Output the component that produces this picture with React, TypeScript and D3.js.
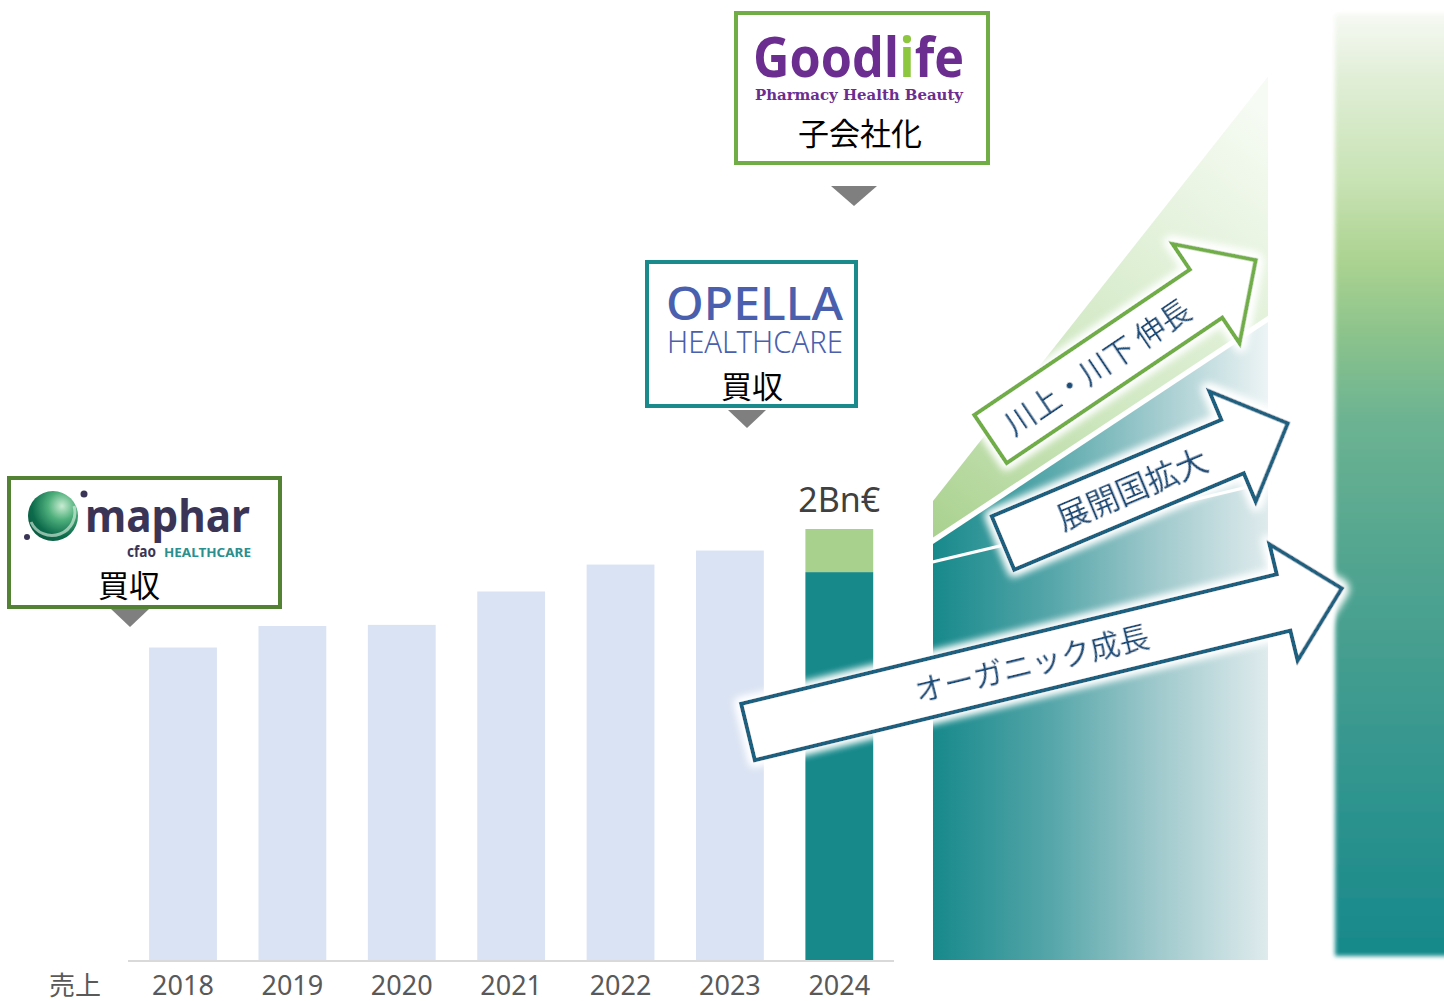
import React, { useEffect } from 'react';
import * as d3 from 'd3';

// ---- data ----
const years = ['2018', '2019', '2020', '2021', '2022', '2023', '2024'];
const organicSales = [1.45, 1.55, 1.555, 1.71, 1.835, 1.9, 1.8];
const acquiredSales = [0, 0, 0, 0, 0, 0, 0.2];
const totalLabel = '2Bn€';
const axisTitle = '売上';

// projection bands (Bn€ at the start / end of the projection)
const futureSteps = [0, 1];
const organicFuture = [1.84, 2.21];
const expansionLow = [1.855, 2.225];
const expansionHigh = [1.93, 2.96];
const valueChainLow = [1.96, 2.99];
const valueChainHigh = [2.13, 4.1];

const arrowLabels = ['川上・川下 伸長', '展開国拡大', 'オーガニック成長'];

const W = 1444;
const H = 1001;
const CJK = '"Noto Sans CJK JP", "Noto Sans", sans-serif';

function arrowPath(len: number, hw: number, headLen: number, headHw: number) {
  const b = len - headLen;
  return `M0,${-hw} L${b},${-hw} L${b},${-headHw} L${len},0 L${b},${headHw} L${b},${hw} L0,${hw} Z`;
}

export default function App() {
  useEffect(() => {
    document.body.style.margin = '0';
  }, []);

  const x = d3
    .scaleBand<string>()
    .domain(years)
    .range([128.3, 894])
    .paddingInner(0.38)
    .paddingOuter(0.19);
  const y = d3.scaleLinear().domain([0, 2.0]).range([960, 529]);
  const fx = d3.scaleLinear().domain([0, 1]).range([933, 1268]);

  const band = (lo: number[], hi: number[]) =>
    d3
      .area<number>()
      .x((d) => fx(d))
      .y0((d, i) => y(lo[i]))
      .y1((d, i) => y(hi[i]))(futureSteps) as string;

  const zero = [0, 0];
  const organicArea = band(zero, organicFuture);
  const expansionArea = band(expansionLow, expansionHigh);
  const valueChainArea = band(valueChainLow, valueChainHigh);

  const arrows = [
    { label: arrowLabels[0], tx: 990.5, ty: 439, angle: -34.0, len: 320, textAt: 129, stroke: '#70ad47', fs: 30 },
    { label: arrowLabels[1], tx: 1003, ty: 543, angle: -22.8, len: 309, textAt: 140, stroke: '#1b5e7e', fs: 32 },
    { label: arrowLabels[2], tx: 748, ty: 732, angle: -13.6, len: 611, textAt: 292, stroke: '#1b5e7e', fs: 30 },
  ];

  const last = years.length - 1;
  const bw = x.bandwidth();

  return (
    <svg
      width={W}
      height={H}
      viewBox={`0 0 ${W} ${H}`}
      style={{ position: 'absolute', left: 0, top: 0, background: '#fff' }}
    >
      <defs>
        <linearGradient id="tealGrad" x1="0" y1="0" x2="1" y2="0">
          <stop offset="0" stopColor="#17898b" />
          <stop offset="0.35" stopColor="#55a6a9" />
          <stop offset="0.65" stopColor="#9bc7ca" />
          <stop offset="1" stopColor="#dfebed" />
        </linearGradient>
        <linearGradient id="tealGrad2" x1="0" y1="0" x2="1" y2="0">
          <stop offset="0" stopColor="#17898b" />
          <stop offset="0.35" stopColor="#5aa9ac" />
          <stop offset="0.7" stopColor="#a9cfd2" />
          <stop offset="1" stopColor="#edf4f5" />
        </linearGradient>
        <linearGradient id="greenGrad" gradientUnits="userSpaceOnUse" x1="933" y1="540" x2="1270" y2="120">
          <stop offset="0" stopColor="#a9d18e" />
          <stop offset="0.4" stopColor="#d0e8c2" />
          <stop offset="1" stopColor="#f6fbf3" />
        </linearGradient>
        <linearGradient id="barGrad" x1="0" y1="0" x2="0" y2="1">
          <stop offset="0" stopColor="#f6f9f3" />
          <stop offset="0.07" stopColor="#e0eed6" />
          <stop offset="0.18" stopColor="#c7e2b3" />
          <stop offset="0.26" stopColor="#acd391" />
          <stop offset="0.34" stopColor="#8cc38c" />
          <stop offset="0.43" stopColor="#6cb392" />
          <stop offset="0.58" stopColor="#52a590" />
          <stop offset="0.78" stopColor="#36978f" />
          <stop offset="1" stopColor="#17898b" />
        </linearGradient>
        <radialGradient id="mapharGrad" cx="0.68" cy="0.3" r="0.8">
          <stop offset="0" stopColor="#c8ecd2" />
          <stop offset="0.35" stopColor="#4fb07c" />
          <stop offset="0.75" stopColor="#0d6b4c" />
          <stop offset="1" stopColor="#0a5a40" />
        </radialGradient>
        <filter id="glow" x="-15%" y="-60%" width="130%" height="220%">
          <feMorphology in="SourceAlpha" operator="dilate" radius="3" result="d" />
          <feGaussianBlur in="d" stdDeviation="4" result="b" />
          <feFlood floodColor="#ffffff" />
          <feComposite in2="b" operator="in" result="g" />
          <feMerge>
            <feMergeNode in="g" />
            <feMergeNode in="g" />
            <feMergeNode in="SourceGraphic" />
          </feMerge>
        </filter>
        <filter id="soft" x="-10%" y="-5%" width="120%" height="110%">
          <feGaussianBlur stdDeviation="2" />
        </filter>
      </defs>

      {/* historical bars */}
      {years.map((yr, i) => (
        <g key={yr}>
          <rect
            x={x(yr)}
            y={y(organicSales[i])}
            width={bw}
            height={y(0) - y(organicSales[i])}
            fill={i === last ? '#17898b' : '#dae3f3'}
          />
          {acquiredSales[i] > 0 && (
            <rect
              x={x(yr)}
              y={y(organicSales[i] + acquiredSales[i])}
              width={bw}
              height={y(organicSales[i]) - y(organicSales[i] + acquiredSales[i])}
              fill="#a9d18e"
            />
          )}
        </g>
      ))}

      {/* axis */}
      <line x1={128} x2={894} y1={961} y2={961} stroke="#d9d9d9" strokeWidth={2} />
      {years.map((yr) => (
        <text
          key={yr}
          x={(x(yr) as number) + bw / 2}
          y={995}
          textAnchor="middle"
          fontFamily='"Noto Sans", sans-serif'
          fontSize={27}
          fill="#595959"
        >
          {yr}
        </text>
      ))}
      <text x={75} y={995} textAnchor="middle" fontFamily={CJK} fontSize={26} fill="#595959">
        {axisTitle}
      </text>

      {/* total label */}
      <text
        x={(x(years[last]) as number) + bw / 2}
        y={y(organicSales[last] + acquiredSales[last]) - 17}
        textAnchor="middle"
        fontFamily='"Noto Sans", sans-serif'
        fontSize={34}
        fill="#404040"
      >
        {totalLabel}
      </text>

      {/* projection */}
      <path d={organicArea} fill="url(#tealGrad)" />
      <path d={expansionArea} fill="url(#tealGrad2)" />
      <path d={valueChainArea} fill="url(#greenGrad)" />

      {/* target bar */}
      <rect x={1335} y={14} width={115} height={942} fill="url(#barGrad)" filter="url(#soft)" />

      {/* arrows */}
      {arrows.map((a) => (
        <g key={a.label} transform={`translate(${a.tx},${a.ty}) rotate(${a.angle})`} filter="url(#glow)">
          <path
            d={arrowPath(a.len, 29, 60, 60)}
            fill="#ffffff"
            stroke={a.stroke}
            strokeWidth={4}
            strokeLinejoin="miter"
          />
          <text
            x={a.textAt}
            y={0}
            dy="0.36em"
            textAnchor="middle"
            fontFamily={CJK}
            fontSize={a.fs}
            fill="#1f4e79"
          >
            {a.label}
          </text>
        </g>
      ))}

      {/* maphar callout */}
      <rect x={9} y={478} width={271} height={129} fill="#fff" stroke="#548235" strokeWidth={4} />
      <circle cx={53} cy={516} r={25} fill="url(#mapharGrad)" />
      <path d="M31,522 A23,23 0 0 0 74,506" fill="none" stroke="#e6f6ea" strokeOpacity={0.6} strokeWidth={3} />
      <circle cx={84} cy={494} r={3.5} fill="#3a3556" />
      <circle cx={27} cy={537} r={3} fill="#3a3556" />
      <text x={85} y={532} fontFamily='"Noto Sans", sans-serif' fontWeight={700} fontSize={44} fill="#3a3556" textLength={165} lengthAdjust="spacingAndGlyphs">
        maphar
      </text>
      <text x={127} y={557} fontFamily='"Noto Sans", sans-serif' fontWeight={700} fontSize={16} fill="#3a3556" textLength={29} lengthAdjust="spacingAndGlyphs">
        cfao
      </text>
      <text x={164} y={557} fontFamily='"Noto Sans", sans-serif' fontWeight={700} fontSize={12} fill="#2a8f8f" textLength={87} lengthAdjust="spacingAndGlyphs">
        HEALTHCARE
      </text>
      <text x={129} y={597} textAnchor="middle" fontFamily={CJK} fontSize={31} fill="#000">
        買収
      </text>
      <polygon points="111,609 149,609 130,627" fill="#7f7f7f" />

      {/* Opella callout */}
      <rect x={647} y={262} width={209} height={144} fill="#fff" stroke="#1a8a8c" strokeWidth={4} />
      <text x={666} y={320} fontFamily='"Noto Sans", sans-serif' fontWeight={500} fontSize={46} fill="#4a5fad" textLength={177} lengthAdjust="spacingAndGlyphs">
        OPELLA
      </text>
      <text x={667} y={353} fontFamily='"Noto Sans", sans-serif' fontWeight={300} fontSize={31} fill="#4a5fad" textLength={176} lengthAdjust="spacingAndGlyphs">
        HEALTHCARE
      </text>
      <text x={752} y={398} textAnchor="middle" fontFamily={CJK} fontSize={31} fill="#000">
        買収
      </text>
      <polygon points="728,410 766,410 747,428" fill="#7f7f7f" />

      {/* Goodlife callout */}
      <rect x={736} y={13} width={252} height={150} fill="#fff" stroke="#70ad47" strokeWidth={4} />
      <text x={753} y={77} fontFamily='"Open Sans", "Noto Sans", sans-serif' fontWeight={700} fontSize={55} fill="#6b2d90" textLength={211} lengthAdjust="spacingAndGlyphs">
        Goodl<tspan fill="#8dc63f">i</tspan>fe
      </text>
      <text x={755} y={100} fontFamily='"DejaVu Serif", serif' fontWeight={700} fontSize={15} fill="#6b2d90" textLength={208} lengthAdjust="spacingAndGlyphs">
        Pharmacy Health Beauty
      </text>
      <text x={860} y={145} textAnchor="middle" fontFamily={CJK} fontSize={31} fill="#000">
        子会社化
      </text>
      <polygon points="831,186 877,186 854,206" fill="#7f7f7f" />
    </svg>
  );
}
